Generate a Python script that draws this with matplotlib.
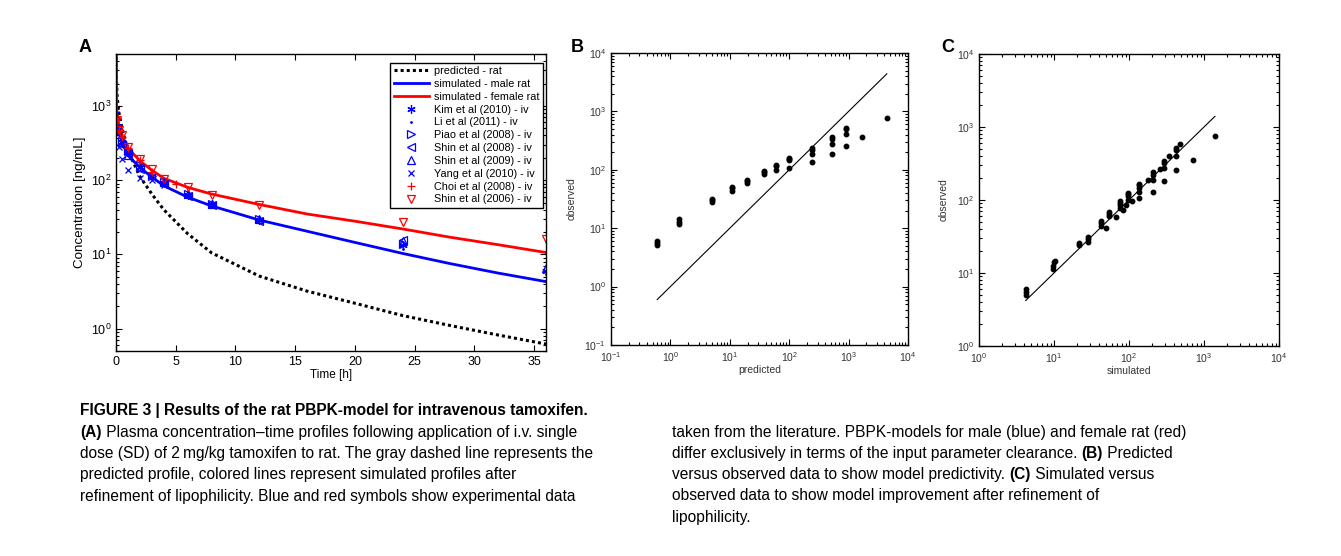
import numpy as np
import matplotlib
matplotlib.use("Agg")
import matplotlib.pyplot as plt
from matplotlib.ticker import LogLocator, NullFormatter

plt.rcParams['font.family'] = ['Liberation Sans', 'DejaVu Sans']
plt.rcParams['mathtext.default'] = 'regular'

# ---- panel A: simulated / predicted profiles ----
t_curve = [0, 0.02, 0.05, 0.1, 0.25, 0.5, 1, 2, 3, 4, 6, 8, 12, 16, 20, 24, 28, 32, 36]
c_female = [8000, 2500, 1000, 700, 520, 400, 270, 182, 136, 106, 80, 65, 47, 35, 28, 22, 17, 13.5, 10.6]
c_male = [8000, 2000, 800, 580, 450, 335, 215, 148, 110, 84, 59, 45, 29, 20.5, 14.5, 10.3, 7.5, 5.6, 4.3]
c_pred = [8000, 3500, 2000, 1300, 800, 500, 250, 112, 65, 40, 19, 10.5, 5.1, 3.2, 2.2, 1.5, 1.1, 0.82, 0.62]

# experimental data (male: blue, female: red)
t_kim = [0.083, 0.25, 0.5, 1, 2, 3, 4, 6, 8, 12, 24, 36]
c_kim = [520, 450, 330, 240, 150, 112, 92, 64, 47, 29, 13.5, 6.0]
t_li = [0.083, 0.25, 0.5, 1, 2, 4, 6, 8, 12, 24, 36]
c_li = [480, 400, 310, 220, 145, 88, 60, 45, 28, 12, 5.5]
t_piao = [0.083, 0.25, 0.5, 1, 2, 3, 4, 6, 8, 12, 24]
c_piao = [560, 470, 340, 250, 160, 115, 95, 66, 48, 30, 14]
t_shin08 = [0.083, 0.5, 1, 2, 4, 6, 8, 12, 24]
c_shin08 = [500, 300, 230, 140, 90, 62, 46, 28, 15.5]
t_shin09 = [0.25, 0.5, 1, 2, 4, 6, 8, 12, 24, 36]
c_shin09 = [420, 330, 220, 150, 95, 65, 48, 30, 15, 6.5]
t_yang = [0.033, 0.25, 0.5, 1, 2, 3, 4]
c_yang = [780, 280, 190, 136, 108, 100, 85]
t_choi = [0.25, 0.5, 1, 2, 3, 5]
c_choi = [480, 380, 270, 185, 130, 88]
t_shin06 = [0.083, 0.25, 0.5, 1, 2, 3, 4, 6, 8, 12, 24, 36]
c_shin06 = [650, 480, 400, 280, 190, 140, 105, 80, 63, 46, 27, 16]

# ---- panel B: predicted vs observed ----
pred_x = [0.6, 0.6, 0.6, 1.42, 1.42, 1.42, 5.1, 5.1, 5.1, 11, 11, 11, 19.5, 19.5, 19.5,
          38, 38, 38, 60, 60, 60, 100, 100, 100, 100, 245, 245, 245, 245,
          520, 520, 520, 520, 890, 890, 890, 890, 1700, 4400]
pred_y = [5.2, 5.6, 6.0, 12, 13, 14.5, 28, 30, 32, 44, 48, 51, 60, 64, 67,
          85, 90, 95, 100, 115, 122, 108, 145, 155, 162, 135, 190, 220, 240,
          190, 280, 335, 360, 260, 405, 490, 530, 358, 770]

# ---- panel C: simulated vs observed ----
sim_x = [4.2, 4.2, 4.2, 9.8, 9.8, 10, 10.3, 21.5, 21.5, 28, 28, 28, 42, 42, 42, 49,
         54, 54, 54, 67, 76, 76, 76, 76, 82, 92, 98, 98, 98, 98, 108,
         135, 135, 135, 135, 135, 178, 210, 210, 210, 210, 260,
         295, 295, 295, 295, 345, 420, 420, 420, 420, 480, 720, 1400]
sim_y = [5.0, 5.5, 6.0, 11.5, 12.5, 14, 14.8, 24, 25.5, 27, 29, 31.5, 44, 48, 52, 41,
         60, 64, 68, 58, 78, 85, 92, 96, 74, 85, 100, 115, 120, 125, 98,
         105, 130, 145, 160, 168, 185, 130, 190, 220, 240, 270,
         180, 275, 320, 345, 400, 255, 400, 480, 510, 580, 352, 760]

W, H = 1341, 556
fig = plt.figure(figsize=(W / 100, H / 100), dpi=100)


def box(l, r, t, b):
    return [l / W, (H - b) / H, (r - l) / W, (b - t) / H]


def matlab_ticks(ax, size):
    ax.tick_params(which='both', direction='in', top=True, right=True,
                   labelsize=size, width=0.8)
    ax.tick_params(which='major', length=4)
    ax.tick_params(which='minor', length=2)
    for s in ax.spines.values():
        s.set_linewidth(1.0)


# panel A
axA = fig.add_axes(box(116, 546, 54, 351))
axA.set_yscale('log')
axA.plot(t_curve, c_pred, color='black', ls=(0, (1, 1)), lw=2.2, label='predicted - rat')
axA.plot(t_curve, c_male, color='blue', lw=2.0, label='simulated - male rat')
axA.plot(t_curve, c_female, color='red', lw=2.0, label='simulated - female rat')
mk = dict(ls='none', ms=6, mew=0.9)
axA.plot(t_kim, c_kim, marker=(6, 2, 0), color='blue', label='Kim et al (2010) - iv', **mk)
axA.plot(t_li, c_li, marker='.', color='blue', ls='none', ms=2, label='Li et al (2011) - iv')
axA.plot(t_piao, c_piao, marker='>', color='blue', mfc='none', label='Piao et al (2008) - iv', **mk)
axA.plot(t_shin08, c_shin08, marker='<', color='blue', mfc='none', label='Shin et al (2008) - iv', **mk)
axA.plot(t_shin09, c_shin09, marker='^', color='blue', mfc='none', label='Shin et al (2009) - iv', **mk)
axA.plot(t_yang, c_yang, marker='x', color='blue', label='Yang et al (2010) - iv', ms=5, mew=0.9, ls='none')
axA.plot(t_choi, c_choi, marker='+', color='red', label='Choi et al (2008) - iv', **mk)
axA.plot(t_shin06, c_shin06, marker='v', color='red', mfc='none', label='Shin et al (2006) - iv', **mk)
axA.set_xlim(0, 36)
axA.set_ylim(0.5, 5000)
axA.set_xticks(range(0, 40, 5))
axA.yaxis.set_major_locator(LogLocator(base=10, numticks=10))
axA.yaxis.set_minor_locator(LogLocator(base=10, subs=np.arange(2, 10), numticks=10))
axA.yaxis.set_minor_formatter(NullFormatter())
matlab_ticks(axA, 9)
axA.set_xlabel('Time [h]', fontsize=8.5, labelpad=1)
axA.set_ylabel('Concentration [ng/mL]', fontsize=9.6, labelpad=3)
leg = axA.legend(loc='upper right', bbox_to_anchor=(0.993, 0.97), borderaxespad=0,
                 fontsize=7.8, numpoints=1, handlelength=3.3, handletextpad=0.45,
                 labelspacing=0.26, borderpad=0.3, fancybox=False, framealpha=1,
                 edgecolor='black')
leg.get_frame().set_linewidth(1.0)

# panel B
axB = fig.add_axes(box(611, 908, 53, 345))
axB.set_xscale('log')
axB.set_yscale('log')
axB.plot([min(pred_x), max(pred_x)], [min(pred_x), max(pred_x)], color='black', lw=0.8)
axB.plot(pred_x, pred_y, 'o', color='black', ms=3.2)
axB.set_xlim(0.1, 1e4)
axB.set_ylim(0.1, 1e4)
axB.set_xlabel('predicted', fontsize=7.5, color='#333333', labelpad=1)
axB.set_ylabel('observed', fontsize=7.5, color='#333333', labelpad=6)

# panel C
axC = fig.add_axes(box(979, 1279, 54, 346))
axC.set_xscale('log')
axC.set_yscale('log')
axC.plot([min(sim_x), max(sim_x)], [min(sim_x), max(sim_x)], color='black', lw=0.8)
axC.plot(sim_x, sim_y, 'o', color='black', ms=3.2)
axC.set_xlim(1, 1e4)
axC.set_ylim(1, 1e4)
axC.set_xlabel('simulated', fontsize=7.5, color='#333333', labelpad=1)
axC.set_ylabel('observed', fontsize=7.5, color='#333333', labelpad=6)

for ax in (axB, axC):
    for a in (ax.xaxis, ax.yaxis):
        a.set_major_locator(LogLocator(base=10, numticks=10))
        a.set_minor_locator(LogLocator(base=10, subs=np.arange(2, 10), numticks=10))
        a.set_minor_formatter(NullFormatter())
    matlab_ticks(ax, 7.5)
    ax.tick_params(labelcolor='#333333')

# panel letters
for x, s in ((79, 'A'), (571, 'B'), (941, 'C')):
    fig.text(x / W, 1 - 48 / H, s, fontsize=13, fontweight='bold', ha='left', va='center')

# caption
cap_font = ['Liberation Sans', 'DejaVu Sans']
cap_size = 11.2
renderer = fig.canvas.get_renderer()


def cap_line(x, y, parts):
    # parts: list of (text, bold)
    for txt, bold in parts:
        t = fig.text(x / W, 1 - y / H, txt, fontsize=cap_size, family=cap_font,
                     fontweight='bold' if bold else 'normal', ha='left', va='center')
        x = t.get_window_extent(renderer).x1


left = [
    [("FIGURE 3 | Results of the rat PBPK-model for intravenous tamoxifen.", True)],
    [("(A)", True), (" Plasma concentration\u2013time profiles following application of i.v. single", False)],
    [("dose (SD) of 2\u2009mg/kg tamoxifen to rat. The gray dashed line represents the", False)],
    [("predicted profile, colored lines represent simulated profiles after", False)],
    [("refinement of lipophilicity. Blue and red symbols show experimental data", False)],
]
right = [
    [("taken from the literature. PBPK-models for male (blue) and female rat (red)", False)],
    [("differ exclusively in terms of the input parameter clearance. ", False), ("(B)", True), (" Predicted", False)],
    [("versus observed data to show model predictivity. ", False), ("(C)", True), (" Simulated versus", False)],
    [("observed data to show model improvement after refinement of", False)],
    [("lipophilicity.", False)],
]
for i, parts in enumerate(left):
    cap_line(80, 411 + i * 21.3, parts)
for i, parts in enumerate(right):
    cap_line(672, 432 + i * 21.3, parts)

fig.savefig('out.png', dpi=100)
